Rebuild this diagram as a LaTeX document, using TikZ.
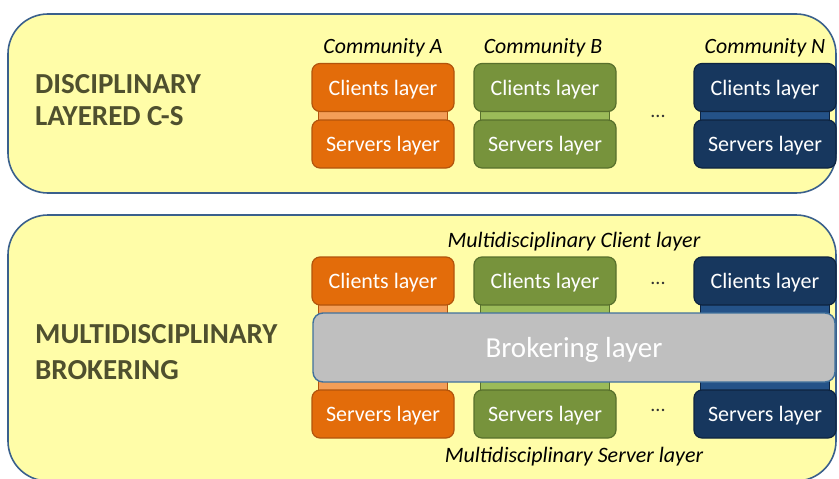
\documentclass[tikz,border=0pt]{standalone}
\usepackage{fontspec}
\setmainfont{Carlito}
\definecolor{panelfill}{RGB}{255,253,168}
\definecolor{panelline}{RGB}{58,96,140}
\definecolor{orA}{RGB}{227,108,10}
\definecolor{orB}{RGB}{178,84,12}
\definecolor{orC}{RGB}{243,158,88}
\definecolor{grA}{RGB}{119,147,60}
\definecolor{grB}{RGB}{88,112,44}
\definecolor{grC}{RGB}{155,187,89}
\definecolor{nvA}{RGB}{23,55,94}
\definecolor{nvB}{RGB}{14,36,64}
\definecolor{nvC}{RGB}{36,82,136}
\definecolor{brA}{RGB}{191,191,191}
\definecolor{brB}{RGB}{65,113,156}
\definecolor{ttl}{RGB}{79,80,46}
\tikzset{
  panel/.style={draw=panelline, line width=1.6pt, fill=panelfill, rounded corners=40pt, minimum width=828pt, inner sep=0pt},
  layerbox/.style={draw=#1B, fill=#1A, line width=1.2pt, rounded corners=8pt, minimum width=142pt, minimum height=48pt, inner sep=0pt, text=white, font=\fontsize{22}{24}\selectfont, text height=15.5pt, text depth=0pt},
  strip/.style={draw=#1B, fill=#1C, line width=1pt, minimum width=129pt, inner sep=0pt},
  comm/.style={font=\fontsize{21.8}{24}\selectfont\itshape, anchor=base},
  wide/.style={font=\fontsize{22}{24}\selectfont\itshape, anchor=base},
  title/.style={font=\fontsize{29}{32}\selectfont\bfseries, text=ttl, anchor=base west, inner sep=0pt},
  dots/.style={font=\fontsize{20}{22}\selectfont, text=black!80},
  broker/.style={draw=brB, fill=brA, line width=1.4pt, rounded corners=10pt, minimum width=522pt, minimum height=69pt, inner sep=0pt, text=white, font=\fontsize{29}{32}\selectfont, text height=19pt, text depth=0pt}
}
\begin{document}
\begin{tikzpicture}[x=1pt,y=-1pt]
\useasboundingbox (0,0) rectangle (839,479);
\clip (0,0) rectangle (839,479);
% panels
\node[panel, minimum height=179pt] (ptop) at (422,103.5) {};
\node[panel, minimum height=266pt] (pbot) at (422,348) {};
% titles
\node[title] (t1) at (35,93) {DISCIPLINARY};
\node[title] (t2) at (35,125) {LAYERED C-S};
\node[title] (t3) at (35,343) {MULTIDISCIPLINARY};
\node[title] (t4) at (35,379) {BROKERING};
% community labels
\node[comm] (cA) at (383,53) {Community A};
\node[comm] (cB) at (543,53) {Community B};
\node[comm] (cN) at (765,53) {Community N};
% top strips
\node[strip=or, minimum height=16pt] (sA1) at (383,116) {};
\node[strip=gr, minimum height=16pt] (sB1) at (545,116) {};
\node[strip=nv, minimum height=16pt] (sN1) at (765,116) {};
% top boxes
\node[layerbox=or] (clA1) at (383,87.5) {Clients layer};
\node[layerbox=or] (svA1) at (383,144) {Servers layer};
\node[layerbox=gr] (clB1) at (545,87.5) {Clients layer};
\node[layerbox=gr] (svB1) at (545,144) {Servers layer};
\node[layerbox=nv] (clN1) at (765,87.5) {Clients layer};
\node[layerbox=nv] (svN1) at (765,144) {Servers layer};
\node[dots] (d1) at (658,116) {...};
% bottom
\node[wide] (mcl) at (574,247) {Multidisciplinary Client layer};
\node[wide] (msl) at (574,462) {Multidisciplinary Server layer};
\node[strip=or, minimum height=96pt] (sA2) at (383,347.5) {};
\node[strip=gr, minimum height=96pt] (sB2) at (545,347.5) {};
\node[strip=nv, minimum height=96pt] (sN2) at (765,347.5) {};
\node[layerbox=or] (clA2) at (383,281) {Clients layer};
\node[layerbox=or] (svA2) at (383,414) {Servers layer};
\node[layerbox=gr] (clB2) at (545,281) {Clients layer};
\node[layerbox=gr] (svB2) at (545,414) {Servers layer};
\node[layerbox=nv] (clN2) at (765,281) {Clients layer};
\node[layerbox=nv] (svN2) at (765,414) {Servers layer};
\node[broker] (brk) at (574,347.5) {Brokering layer};
\node[dots] (d2) at (658,283) {...};
\node[dots] (d3) at (658,410) {...};
\end{tikzpicture}
\end{document}
